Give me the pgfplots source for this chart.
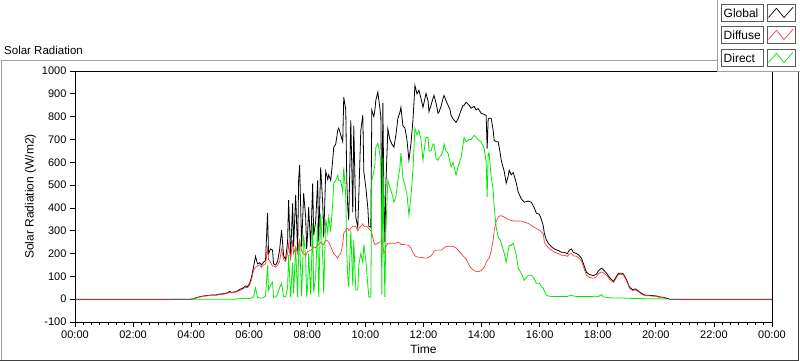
\documentclass[border=0pt]{standalone}
\usepackage{fontspec}
\setmainfont{Liberation Sans}
\usepackage{pgfplots}
\pgfplotsset{compat=1.18}
\usepackage{pgfplotstable}
\definecolor{dgreen}{RGB}{0,235,0}
\definecolor{lred}{RGB}{255,55,55}
\definecolor{framegray}{RGB}{160,160,160}
\definecolor{boxgray}{RGB}{90,90,90}

\pgfplotstableread{
t g d r
0.000 0 -3 nan
3.280 0 -3 nan
3.315 0 nan nan
4.005 0 0 0
4.144 5 4 0
4.282 10 9 0
4.420 14 13 0
4.558 16 15 0
4.696 18 17 0
4.834 18 17 0
4.972 22 20 0
5.110 24 22 0
5.249 28 26 0
5.318 34 30 0
5.387 30 28 0
5.525 32 30 0
5.663 42 38 2
5.801 50 46 3
5.870 58 52 4
5.939 55 50 3
6.008 68 62 3
6.077 95 85 5
6.146 140 125 10
6.215 188 140 50
6.284 155 145 8
6.354 160 150 5
6.423 150 140 5
6.492 162 150 8
6.561 170 155 12
6.630 377 220 150
6.664 200 175 40
6.733 220 160 60
6.802 215 145 74
6.837 155 145 8
6.906 150 140 10
6.975 165 150 20
7.044 215 165 50
7.113 302 220 70
7.182 190 175 12
7.251 175 165 10
7.320 250 200 50
7.355 434 240 193
7.424 185 175 10
7.493 420 258 160
7.528 230 200 25
7.597 456 230 228
7.666 210 200 10
7.700 521 240 200
7.735 587 260 250
7.804 230 210 15
7.873 464 200 280
7.942 360 190 184
7.977 220 200 10
8.011 290 210 60
8.046 403 210 201
8.115 230 215 20
8.184 508 220 333
8.218 280 230 30
8.287 340 225 100
8.356 521 240 333
8.391 250 240 10
8.460 578 250 377
8.529 420 240 184
8.564 270 240 26
8.633 560 260 350
8.702 525 255 290
8.736 545 250 360
8.805 520 230 300
8.874 610 210 420
8.909 666 200 508
8.978 680 190 520
9.047 740 180 543
9.081 750 190 520
9.150 720 200 520
9.219 690 240 470
9.254 885 290 578
9.323 830 300 450
9.358 520 310 200
9.392 400 310 100
9.427 346 300 53
9.496 784 310 300
9.565 380 320 60
9.599 760 320 260
9.668 360 320 40
9.737 315 300 40
9.772 450 310 150
9.841 740 320 200
9.910 806 330 160
9.945 560 320 240
10.014 490 320 170
10.083 400 315 60
10.117 320 310 10
10.186 315 300 8
10.221 828 290 521
10.290 800 250 560
10.325 828 240 590
10.359 872 240 666
10.428 907 245 683
10.463 872 250 666
10.532 800 250 600
10.566 300 275 20
10.601 860 240 620
10.635 450 200 250
10.670 250 210 10
10.704 500 230 300
10.773 747 245 521
10.842 700 245 490
10.911 680 245 464
10.981 666 245 425
11.050 720 245 450
11.119 793 250 521
11.188 819 245 578
11.222 841 240 640
11.291 760 240 530
11.360 750 238 500
11.429 700 238 460
11.498 609 235 368
11.567 680 225 450
11.636 784 205 565
11.705 937 190 749
11.775 900 185 720
11.844 915 184 740
11.913 880 183 700
11.982 841 182 609
12.051 880 180 680
12.086 902 180 709
12.155 870 182 709
12.189 822 185 650
12.258 850 190 650
12.327 880 200 680
12.362 893 210 680
12.431 860 215 617
12.500 815 215 609
12.534 820 215 620
12.603 845 215 630
12.673 880 220 650
12.707 893 225 680
12.776 870 230 650
12.845 850 232 640
12.914 830 232 600
12.949 806 232 580
13.018 790 232 600
13.121 775 225 543
13.190 790 215 580
13.294 828 200 620
13.363 850 190 680
13.398 850 185 709
13.467 863 175 690
13.570 850 150 700
13.639 837 135 700
13.743 845 125 718
13.812 830 122 710
13.881 835 120 700
13.985 815 125 690
14.088 810 140 660
14.157 806 160 600
14.192 660 170 447
14.227 790 175 640
14.261 793 180 640
14.330 793 210 535
14.399 740 260 480
14.434 696 300 403
14.503 690 340 315
14.572 690 360 272
14.641 640 366 260
14.675 609 366 245
14.779 560 360 201
14.848 508 355 162
14.917 540 350 215
14.951 565 348 235
15.021 545 345 236
15.090 555 343 245
15.193 510 343 193
15.262 469 343 136
15.366 440 342 114
15.469 425 338 83
15.608 430 332 105
15.711 425 324 105
15.815 400 315 90
15.884 377 310 70
15.988 372 302 70
16.057 350 295 55
16.126 320 285 48
16.160 289 250 35
16.229 260 236 18
16.298 245 225 14
16.402 230 215 12
16.505 220 206 12
16.643 213 200 12
16.747 206 193 12
16.851 205 192 12
16.954 200 188 12
17.023 215 198 15
17.092 220 200 18
17.161 205 190 14
17.265 200 188 12
17.334 195 182 12
17.438 180 168 12
17.507 155 142 12
17.611 118 105 12
17.714 108 95 12
17.852 103 92 11
17.956 110 98 11
18.025 125 112 12
18.128 136 120 20
18.197 128 115 10
18.301 114 105 8
18.405 95 88 6
18.543 78 73 5
18.646 100 95 5
18.715 114 108 5
18.819 114 109 5
18.888 110 105 5
18.992 85 80 4
19.095 52 48 4
19.199 42 38 3
19.302 45 41 3
19.406 35 32 3
19.510 25 22 3
19.613 18 16 2
19.855 16 14 2
20.028 14 12 2
20.131 10 8 1
20.269 8 6 1
20.373 4 3 0
20.476 0 nan nan
20.753 0 nan nan
20.787 0 -3 nan
24.000 0 -3 nan
}\solar

\begin{document}
\begin{tikzpicture}
\path[use as bounding box] (0pt,0pt) rectangle (800pt,361pt);
% outer frame
\draw[framegray, line width=1pt] (1pt,0pt) -- (1pt,300pt) -- (717pt,300pt);
\draw[black!75, line width=1pt] (0pt,0.5pt) -- (798pt,0.5pt) -- (798pt,289pt);
% title
\node[anchor=base west, inner sep=0pt, font=\fontsize{11.5}{13}\selectfont] at (4pt,306pt) {Solar Radiation};

\begin{axis}[
  at={(75pt,39pt)}, anchor=south west, scale only axis,
  width=697pt, height=251pt,
  xmin=0, xmax=24, ymin=-100, ymax=1000,
  xtick={0,2,...,24},
  xticklabels={00:00,02:00,04:00,06:00,08:00,10:00,12:00,14:00,16:00,18:00,20:00,22:00,00:00},
  minor x tick num=6,
  ytick={-100,0,100,200,300,400,500,600,700,800,900,1000},
  tick align=outside, xtick pos=bottom, ytick pos=left,
  major tick length=5pt, minor tick length=3pt,
  tick style={black, line width=0.8pt},
  ticklabel style={font=\fontsize{11}{13}\selectfont, text=black},
  /pgf/number format/assume math mode=true,
  /pgf/number format/1000 sep={},
  xlabel={Time}, ylabel={Solar Radiation (W/m2)},
  label style={font=\fontsize{12}{14}\selectfont},
  ylabel style={yshift=-1pt},
  axis line style={line width=0.8pt},
  unbounded coords=jump,
]
\addplot[black, line width=0.8pt] table[x=t,y=g]{\solar};
\addplot[lred, line width=0.7pt] table[x=t,y=d]{\solar};
\addplot[dgreen, line width=0.8pt] table[x=t,y=r]{\solar};
\end{axis}

% legend panel
\fill[white] (717pt,289pt) rectangle (800pt,361pt);
\draw[framegray, line width=0.8pt] (717.5pt,361pt) -- (717.5pt,289.5pt) -- (800pt,289.5pt);
\foreach \yb/\lab/\col in {340/Global/black, 318/Diffuse/lred, 295/Direct/dgreen}{
  \draw[boxgray, line width=0.9pt] (721pt,\yb pt) rectangle (763pt,\yb pt+17pt);
  \draw[boxgray, line width=0.9pt] (767pt,\yb pt) rectangle (795pt,\yb pt+17pt);
  \node[anchor=base west, inner sep=0pt, font=\fontsize{12}{14}\selectfont] at (723.5pt,\yb pt+3.5pt) {\lab};
  \draw[\col, line width=0.7pt] (768.5pt,\yb pt+3.5pt) -- (776.5pt,\yb pt+12.7pt) -- (784pt,\yb pt+3.5pt) -- (793pt,\yb pt+13.7pt);
}
\end{tikzpicture}
\end{document}
